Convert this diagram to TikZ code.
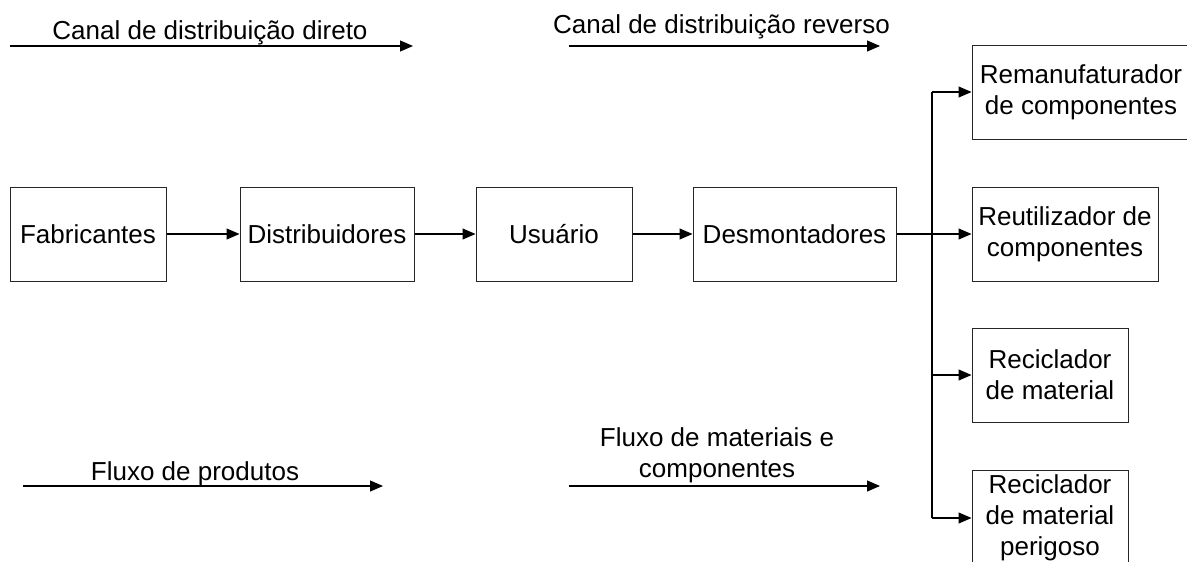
\documentclass[tikz,border=0pt]{standalone}
\usepackage{fontspec}
\setmainfont{Liberation Sans}
\usetikzlibrary{arrows.meta}
\begin{document}
\begin{tikzpicture}[x=1pt,y=-1pt,
  every node/.style={font=\fontsize{26}{31}\selectfont},
  box/.style={draw=black!85,line width=1pt,rectangle,inner sep=0pt,align=center,minimum height=94pt},
  lbl/.style={inner sep=0pt,align=center},
  conn/.style={black,line width=1.1pt},
  arr/.style={conn,-{Triangle[length=13pt,width=11pt]}}]
\useasboundingbox (0,0) rectangle (1187,562);
\clip (0,0) rectangle (1187,562);
% main row
\node[box,minimum width=156pt] (fab) at (88,234) {Fabricantes};
\node[box,minimum width=174pt] (dist) at (327,234) {Distribuidores};
\node[box,minimum width=156pt] (usu) at (554,234) {Usuário};
\node[box,minimum width=203pt] (des) at (794.5,234) {Desmontadores};
% right column
\node[box,minimum width=218pt] (rem) at (1081,92) {Remanufaturador\\de componentes};
\node[box,minimum width=186pt] (reu) at (1065,234) {Reutilizador de\\componentes};
\node[box,minimum width=156pt] (rec) at (1050,375) {Reciclador\\de material};
\node[box,minimum width=156pt,minimum height=96pt] (per) at (1050,518) {Reciclador\\de material\\perigoso};
% connectors
\draw[arr] (fab) -- (dist);
\draw[arr] (dist) -- (usu);
\draw[arr] (usu) -- (des);
\coordinate (j) at (932,234);
\draw[arr] (des.east) -- (reu.west);
\draw[conn] (j |- rem.west) -- (j |- per.west);
\draw[arr] (j |- rem.west) -- (rem.west);
\draw[arr] (j |- rec.west) -- (rec.west);
\draw[arr] (j |- per.west) -- (per.west);
% legend arrows
\coordinate (a1s) at (10,46);
\coordinate (a1e) at (413,46);
\draw[arr] (a1s) -- (a1e);
\node[lbl,anchor=base] (t1) at (210,39) {Canal de distribuição direto};
\coordinate (a2s) at (569,46);
\coordinate (a2e) at (880,46);
\draw[arr] (a2s) -- (a2e);
\node[lbl,anchor=base] (t2) at (721.5,33) {Canal de distribuição reverso};
\coordinate (a3s) at (23,486);
\coordinate (a3e) at (383,486);
\draw[arr] (a3s) -- (a3e);
\node[lbl,anchor=base] (t3) at (195,480) {Fluxo de produtos};
\coordinate (a4s) at (569,486);
\coordinate (a4e) at (880,486);
\draw[arr] (a4s) -- (a4e);
\node[lbl] (t4) at (717,455) {Fluxo de materiais e\\componentes};
\end{tikzpicture}
\end{document}
